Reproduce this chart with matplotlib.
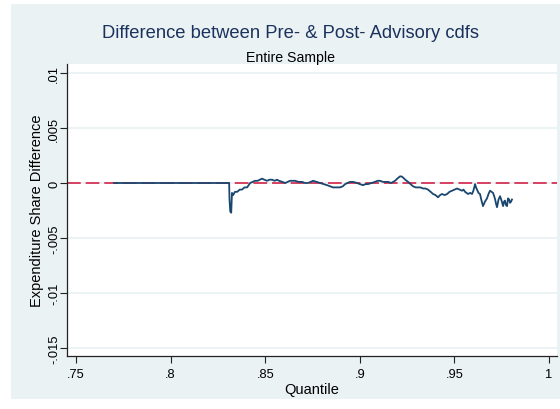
import numpy as np
import matplotlib
matplotlib.use("Agg")
import matplotlib.pyplot as plt
from matplotlib.patches import Rectangle

# quantile grid and pre/post expenditure share difference
quantile = [
    .7701, .8000, .8309, .8311, .8315, .8320, .8324, .8330, .8340, .8352,
    .8365, .8377, .8390, .8404, .8412, .8420, .8433, .8446, .8460, .8472,
    .8483, .8495, .8510, .8522, .8536, .8550, .8562, .8573, .8590, .8605,
    .8618, .8631, .8645, .8658, .8675, .8695, .8710, .8726, .8740, .8753,
    .8772, .8790, .8808, .8827, .8842, .8858, .8877, .8895, .8910, .8922,
    .8935, .8948, .8965, .8985, .9000, .9017, .9030, .9043, .9062, .9080,
    .9093, .9107, .9122, .9138, .9150, .9165, .9176, .9186, .9198, .9212,
    .9220, .9228, .9240, .9255, .9268, .9281, .9295, .9308, .9320, .9334,
    .9347, .9360, .9374, .9387, .9400, .9413, .9424, .9434, .9448, .9461,
    .9474, .9487, .9500, .9514, .9527, .9540, .9548, .9556, .9564, .9572,
    .9583, .9593, .9600, .9609, .9614, .9619, .9627, .9635, .9643, .9651,
    .9661, .9672, .9680, .9688, .9696, .9704, .9710, .9715, .9720, .9725,
    .9733, .9741, .9749, .9757, .9762, .9767, .9772, .9778, .9783, .9789,
    .9794, .9799, .9804,
]
share_diff = [
    0, 0, 0, -.0015, -.0026, -.0027, -.0009, -.0011, -.0008, -.0008,
    -.0006, -.0006, -.0004, -.0004, -.0002, 0, .0001, .0002, .0002, .0003,
    .0004, .0003, .0002, .0003, .0003, .0002, .0003, .0002, .0001, 0,
    .0001, .0002, .0002, .0002, .0001, .0001, 0, 0, .0001, .0002,
    .0001, 0, -.0001, -.0002, -.0003, -.0004, -.0004, -.0004, -.0003, -.0001,
    0, .0001, .0001, 0, -.0001, -.0002, -.0001, -.0001, 0, .0001,
    .0002, .0002, .0001, .0001, .0001, 0, .0001, .0002, .0004, .0006,
    .0006, .0005, .0003, .0001, -.0001, -.0003, -.0004, -.0004, -.0004, -.0005,
    -.0005, -.0006, -.0008, -.0010, -.0011, -.0013, -.0011, -.0010, -.0011, -.0010,
    -.0008, -.0007, -.0006, -.0005, -.0006, -.0007, -.0006, -.0008, -.0009, -.0010,
    -.0009, -.0010, -.0007, -.0001, -.0004, -.0006, -.0009, -.0010, -.0016, -.0021,
    -.0017, -.0014, -.0010, -.0007, -.0008, -.0009, -.0012, -.0015, -.0019, -.0022,
    -.0015, -.0012, -.0016, -.0021, -.0017, -.0016, -.0020, -.0021, -.0014, -.0015,
    -.0018, -.0017, -.0015,
]

y_ticks = [-.015, -.01, -.005, 0, .005, .01]
y_labels = ["-.015", "-.01", "-.005", "0", ".005", ".01"]
x_ticks = [.75, .8, .85, .9, .95, 1]
x_labels = [".75", ".8", ".85", ".9", ".95", "1"]

navy = "#1a476f"
cranberry = "#d0103a"
region = "#eaf2f3"

plt.rcParams["font.family"] = ["Liberation Sans", "DejaVu Sans"]

fig = plt.figure(figsize=(5.6, 4.1), dpi=100)
fig.patch.set_facecolor("white")
# light graph region behind the plot
fig.add_artist(Rectangle((11 / 560, 1 - 400 / 410), 549 / 560, 395 / 410,
                         transform=fig.transFigure, facecolor=region,
                         edgecolor="none", zorder=-10))

ax = fig.add_axes([67 / 560, 1 - 357 / 410, 490 / 560, 292 / 410])
ax.set_facecolor("white")

for t in y_ticks:
    ax.axhline(t, color=region, lw=1.3, zorder=1)
ax.axhline(0, color=cranberry, lw=1.1, dashes=(9, 3.2), zorder=2)
ax.plot(quantile, share_diff, color=navy, lw=1.3, zorder=3)

ax.set_xlim(.7452, 1.0042)
ax.set_ylim(-.01573, .01082)

ax.set_xticks(x_ticks)
ax.set_xticklabels(x_labels)
ax.set_yticks(y_ticks)
ax.set_yticklabels(y_labels, rotation=90, va="center")
ax.tick_params(axis="both", labelsize=9.3, length=5, width=0.8, color="#222222")
ax.tick_params(axis="x", pad=4)
ax.tick_params(axis="y", pad=0)

for side in ("top", "right"):
    ax.spines[side].set_visible(False)
for side in ("left", "bottom"):
    ax.spines[side].set_color("#222222")
    ax.spines[side].set_linewidth(0.9)

ax.set_xlabel("Quantile", fontsize=10.5, labelpad=1)
ax.set_ylabel("Expenditure Share Difference", fontsize=10.5, labelpad=3)

fig.text(291 / 560, 1 - 33 / 410, "Difference between Pre- & Post- Advisory cdfs",
         ha="center", va="center", fontsize=13.2, color="#1c325e")
fig.text(291 / 560, 1 - 58 / 410, "Entire Sample",
         ha="center", va="center", fontsize=10.2, color="black")

fig.savefig("out.png", dpi=100, facecolor=fig.get_facecolor())
